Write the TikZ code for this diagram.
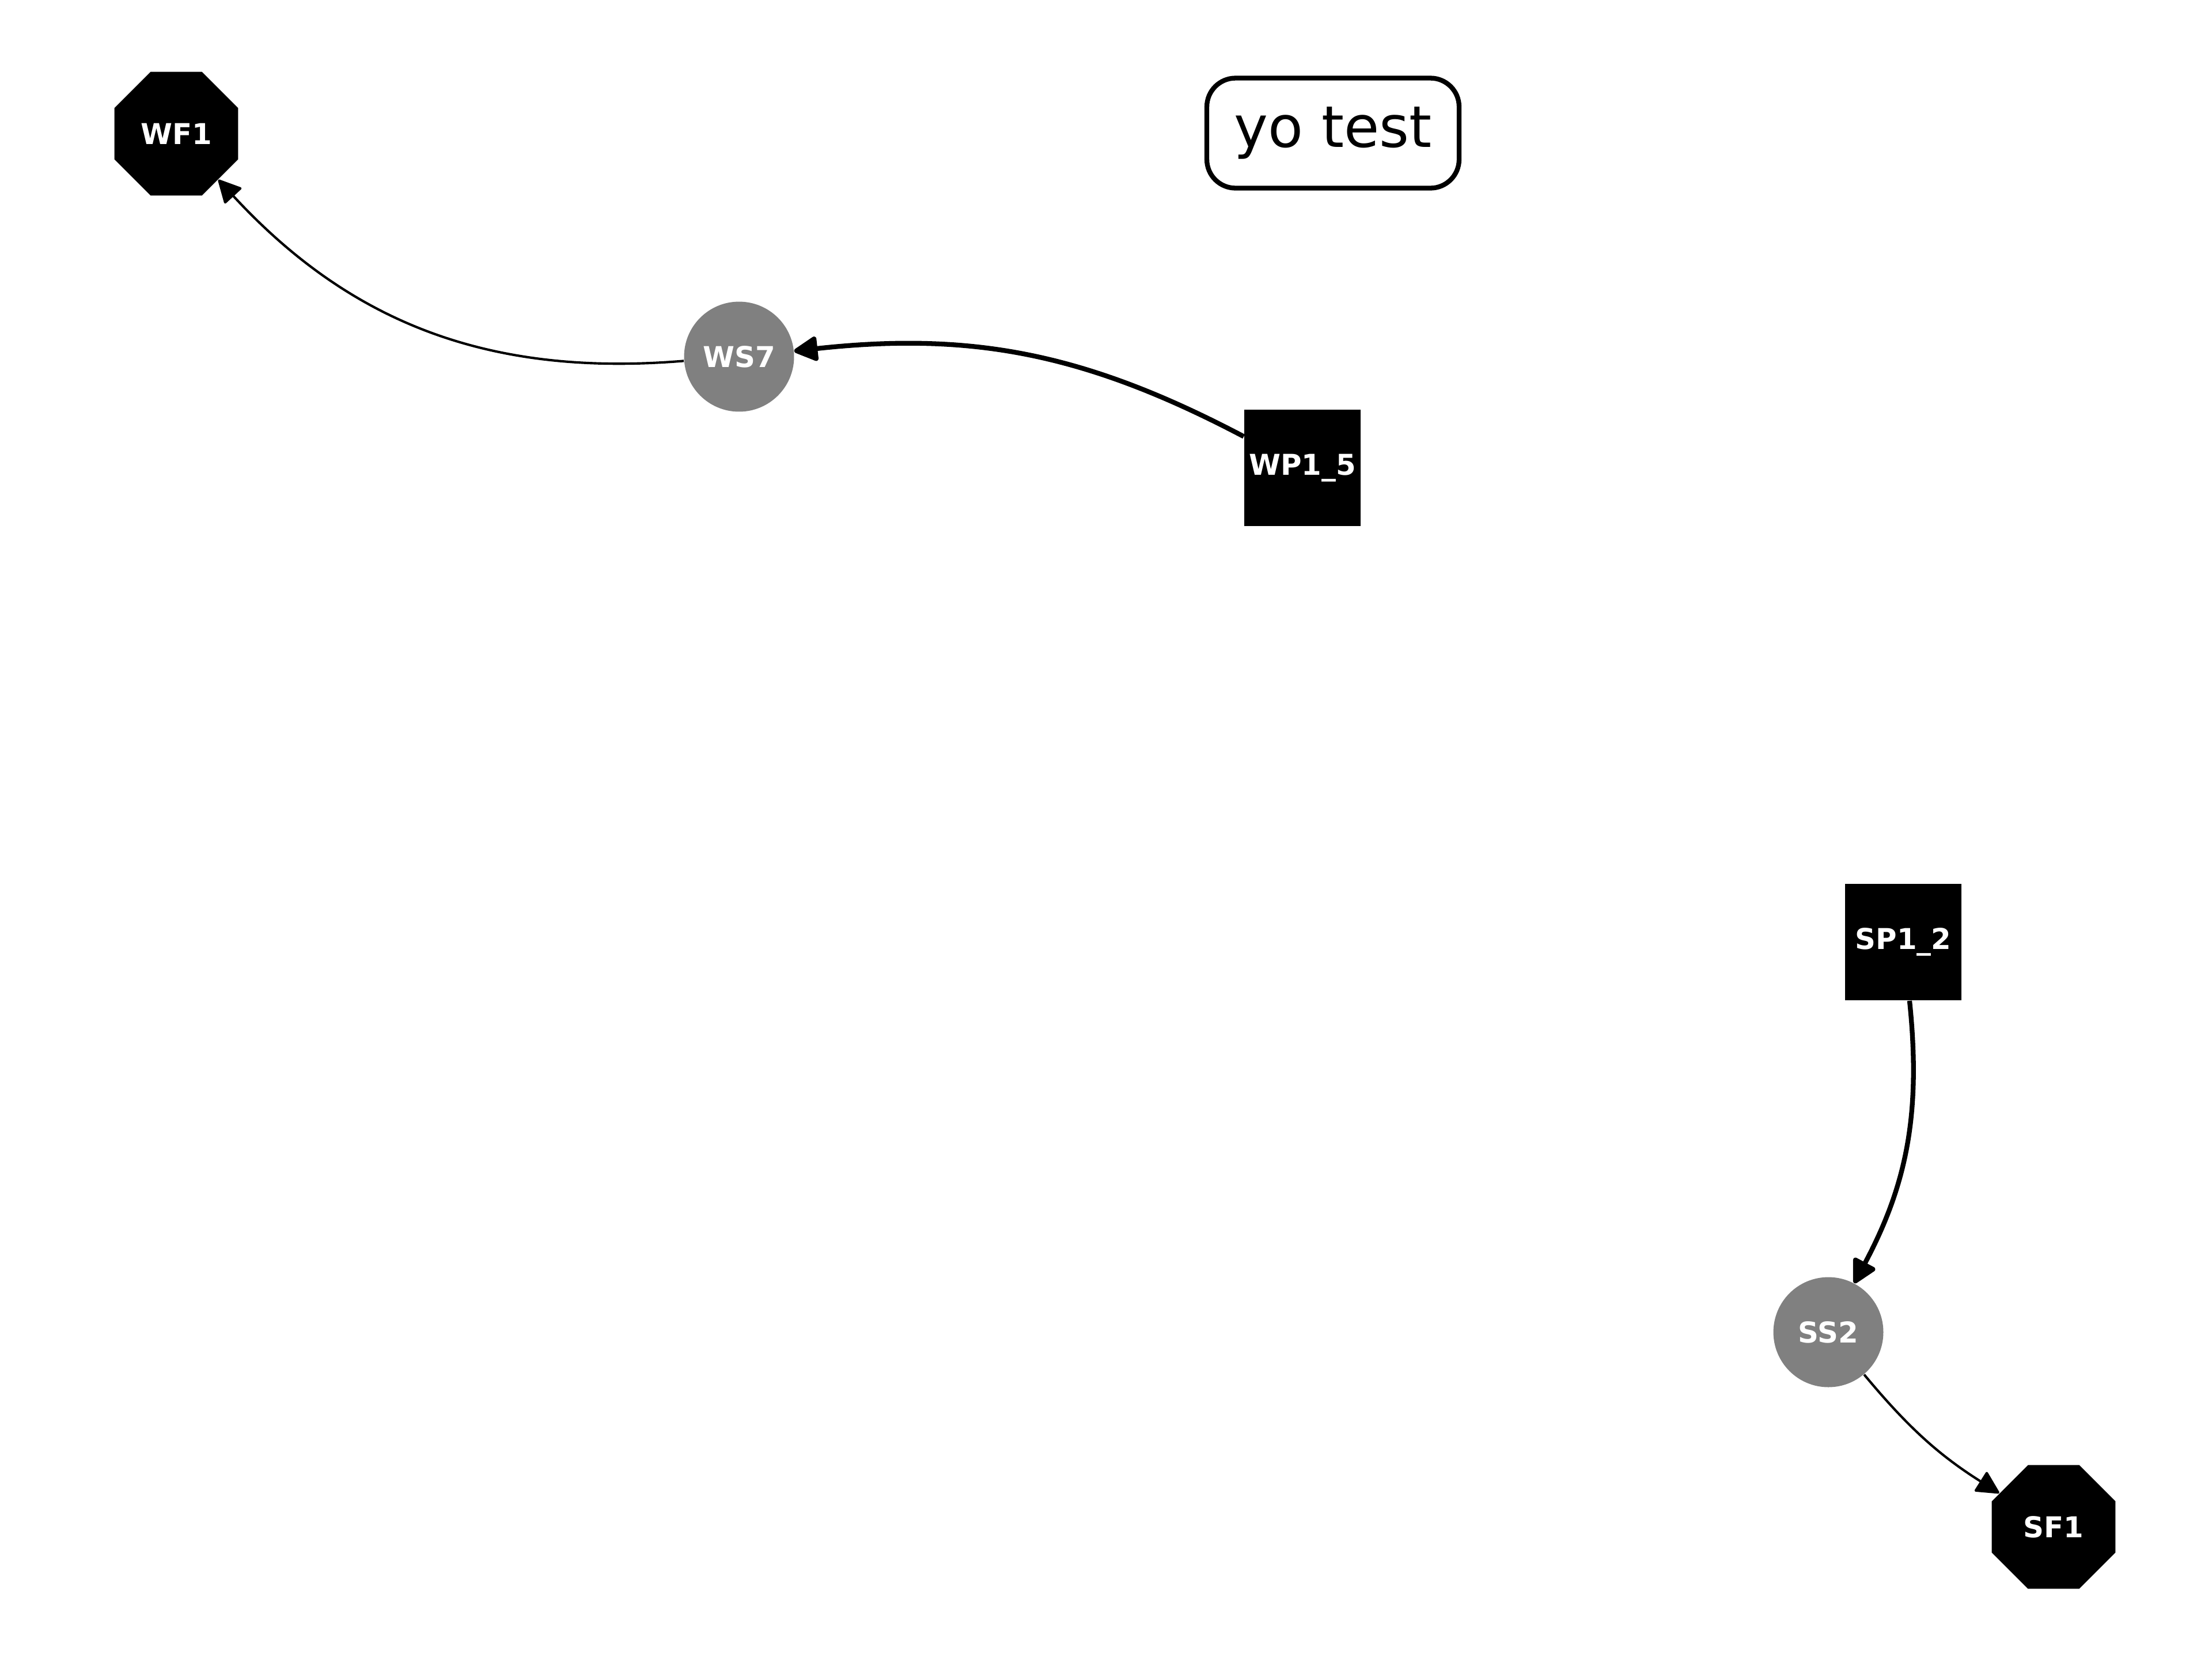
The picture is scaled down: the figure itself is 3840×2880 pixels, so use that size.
\documentclass[tikz,border=0pt]{standalone}
\usepackage{fontspec}
\setmainfont{DejaVu Sans}
\usetikzlibrary{shapes.geometric,arrows.meta}

\begin{document}
\begin{tikzpicture}[x=0.0846667mm,y=-0.0846667mm,
  lbl/.style={text=white,font=\fontsize{12}{14}\selectfont\bfseries,inner sep=0pt},
  stopnode/.style={lbl,regular polygon,regular polygon sides=8,fill=black,minimum size=56pt},
  stepsq/.style={lbl,rectangle,fill=black,minimum size=48.7pt},
  statenode/.style={lbl,circle,fill=gray,minimum size=46pt},
  thinedge/.style={line width=1pt,-{Triangle[length=10pt,width=10pt,round]}},
  thickedge/.style={line width=2pt,-{Triangle[length=11pt,width=11pt,round]}}]
  % page frame
  \useasboundingbox (0,0) rectangle (3840,2880);

  % nodes
  \node[stopnode] (wf1) at (306,232) {WF1};
  \node[statenode] (ws7) at (1283,619) {WS7};
  \node[stepsq] (wp15) at (2261,812) {WP1\_5};
  \node[stepsq] (sp12) at (3304,1635) {SP1\_2};
  \node[statenode] (ss2) at (3174,2312) {SS2};
  \node[stopnode] (sf1) at (3565,2650) {SF1};

  % title box
  \node[draw,line width=2pt,rounded corners=12pt,minimum width=105.5pt,minimum height=46pt,
    font=\fontsize{24}{28}\selectfont] (title) at (2314,231) {yo test};

  % edges
  \draw[thinedge] (ws7) to[bend left=26] (wf1);
  \draw[thickedge] (wp15) to[bend right=17] (ws7);
  \draw[thickedge] (sp12) to[bend left=17] (ss2);
  \draw[thinedge] (ss2) to[bend right=9] (sf1);
\end{tikzpicture}
\end{document}
